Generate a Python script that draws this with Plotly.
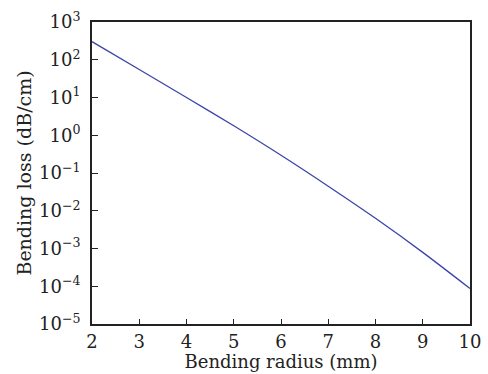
import plotly.graph_objects as go

radius_mm = [2, 3, 4, 5, 6, 7, 8, 9, 10]
loss_db_cm = [302, 55, 10.0, 1.78, 0.295, 0.0447, 0.0063, 7.9e-4, 8.7e-5]

y_tickvals = [1e3, 1e2, 1e1, 1e0, 1e-1, 1e-2, 1e-3, 1e-4, 1e-5]
y_ticktext = ["10<sup>3</sup>", "10<sup>2</sup>", "10<sup>1</sup>", "10<sup>0</sup>",
              "10<sup>−1</sup>", "10<sup>−2</sup>", "10<sup>−3</sup>", "10<sup>−4</sup>",
              "10<sup>−5</sup>"]
x_tickvals = [2, 3, 4, 5, 6, 7, 8, 9, 10]

fnt = "DejaVu Serif"

fig = go.Figure()
fig.add_trace(go.Scatter(x=radius_mm, y=loss_db_cm, mode="lines",
                         line=dict(color="#3c44a8", width=1.3, shape="spline", smoothing=0.8),
                         showlegend=False))
fig.update_layout(
    width=488, height=374,
    margin=dict(l=92, r=18, t=22, b=50),
    paper_bgcolor="white", plot_bgcolor="white",
    font=dict(family=fnt, size=18, color="#222"),
)
fig.update_xaxes(range=[2, 10], tickvals=x_tickvals, ticks="inside", ticklen=5,
                 tickwidth=1.3, tickcolor="#222", ticklabelstandoff=0, automargin=False,
                 showline=True, linecolor="#222", linewidth=1.8, mirror=True,
                 showgrid=False, zeroline=False,
                 title=dict(text="Bending radius (mm)", standoff=3, font=dict(size=18)))
fig.update_yaxes(type="log", range=[-5, 3], tickvals=y_tickvals, ticktext=y_ticktext,
                 ticks="inside", ticklen=6, tickwidth=1.3, tickcolor="#222",
                 ticklabelstandoff=6, automargin=False,
                 showline=True, linecolor="#222", linewidth=1.8, mirror=True,
                 showgrid=False, zeroline=False,
                 title=dict(text="Bending loss (dB/cm)", standoff=2, font=dict(size=19)))
fig.write_html("out.html", config={"displayModeBar": False},
               post_script="document.body.style.margin='0';document.body.style.padding='0';")
